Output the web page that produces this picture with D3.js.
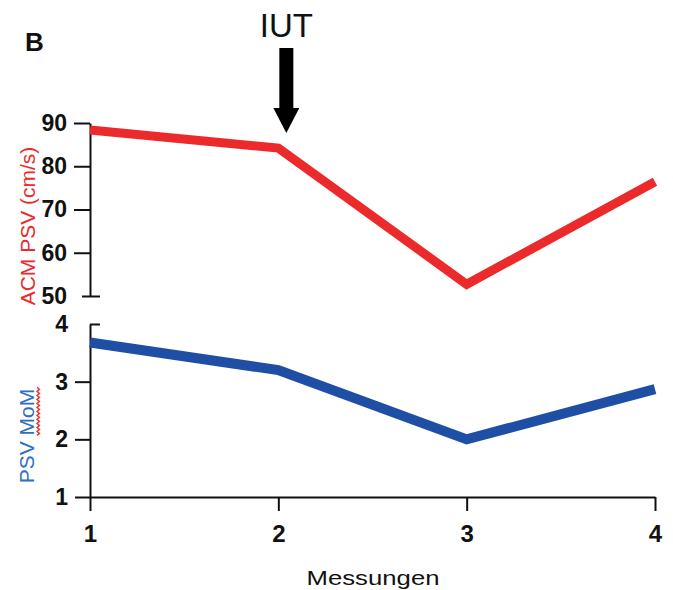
<!DOCTYPE html>
<html lang="en">
<head>
    <meta charset="UTF-8">
    <script src="https://d3js.org/d3.v7.min.js"></script>
    <title>Messungen</title>
    <style>
        body{ margin: 0; background-color: #fff; }
        text{ font-family: Arial, "Liberation Sans", sans-serif; }
        .yaxis .tick text{ font-weight: bold; font-size: 23px; fill: #111; }
        .xaxis .tick text{ font-weight: bold; font-size: 24px; fill: #111; }
        .tick line, .domain{ stroke: #111; stroke-width: 2; }
    </style>
</head>
<body>
    <div id="chart"></div>
<script>
// data
const messungen = [1, 2, 3, 4];
const acmPsv = [88.4, 84.2, 52.7, 76.4];
const psvMom = [3.68, 3.2, 2.0, 2.87];
const acmTicks = [50, 60, 70, 80, 90];
const momTicks = [1, 2, 3, 4];
const iutAt = 2;

const svg = d3.select("#chart").append("svg").attr("width", 673).attr("height", 590);

// Create scales
const x = d3.scaleLinear().domain([1, 4]).range([90, 655]);
const yTop = d3.scaleLinear().domain([50, 90]).range([296, 123]);
const yBot = d3.scaleLinear().domain([1, 4]).range([497, 324]);

// Axes
const topAxis = svg.append("g").attr("class", "yaxis").attr("transform", "translate(90,0)")
    .call(d3.axisLeft(yTop).tickValues(acmTicks).tickSize(16).tickSizeOuter(0).tickPadding(7));
topAxis.selectAll(".tick").filter(d => d === 50).select("line").attr("x1", -8).attr("x2", 10);

const botAxis = svg.append("g").attr("class", "yaxis").attr("transform", "translate(90,0)")
    .call(d3.axisLeft(yBot).tickValues(momTicks).tickFormat(d3.format("d")).tickSize(15).tickSizeOuter(0).tickPadding(7));
botAxis.selectAll(".tick").filter(d => d === 4).select("line").attr("x2", 10);

const xAxis = svg.append("g").attr("class", "xaxis").attr("transform", "translate(0,497)")
    .call(d3.axisBottom(x).tickValues(messungen).tickFormat(d3.format("d")).tickSize(14).tickSizeOuter(0).tickPadding(14));
xAxis.selectAll(".tick line").attr("stroke-width", 1.6);

// Lines
const lineTop = d3.line().x((d, i) => x(messungen[i])).y(d => yTop(d));
const lineBot = d3.line().x((d, i) => x(messungen[i])).y(d => yBot(d));

svg.append("path").datum(acmPsv)
    .attr("fill", "none").attr("stroke", "#ec2a2c").attr("stroke-width", 9)
    .attr("stroke-linejoin", "miter").attr("d", lineTop);

svg.append("path").datum(psvMom)
    .attr("fill", "none").attr("stroke", "#1e4fa5").attr("stroke-width", 10)
    .attr("stroke-linejoin", "miter").attr("d", lineBot);

// Axis titles
svg.append("text").attr("transform", "translate(35,226) rotate(-90)")
    .attr("text-anchor", "middle").attr("font-size", 21).attr("fill", "#ec2a2c")
    .text("ACM PSV (cm/s)");

const momY = 436;
const mom = svg.append("text").attr("transform", `translate(34,${momY}) rotate(-90)`)
    .attr("text-anchor", "middle").attr("font-size", 21).attr("fill", "#2f6fc0")
    .text("PSV MoM");

// red spell-check squiggle under "MoM"
const node = mom.node();
const total = node.getComputedTextLength();
const start = node.getSubStringLength(0, 4);
const y0 = momY + total / 2 - start, y1 = momY - total / 2;
const wave = d3.path();
wave.moveTo(37, y0);
for (let yy = y0, k = 0; yy > y1; yy -= 2, k++) wave.lineTo(k % 2 ? 37 : 39.5, yy - 2);
svg.append("path").attr("d", wave.toString()).attr("fill", "none")
    .attr("stroke", "#e53935").attr("stroke-width", 1.4);

svg.append("text").attr("x", 373).attr("y", 585)
    .attr("text-anchor", "middle").attr("font-size", 21).attr("fill", "#111")
    .attr("textLength", 133).attr("lengthAdjust", "spacingAndGlyphs")
    .text("Messungen");

// Panel letter
svg.append("text").attr("x", 25).attr("y", 51)
    .attr("font-size", 26).attr("font-weight", "bold").attr("fill", "#111").text("B");

// IUT arrow
const ax = x(iutAt) + 8;
svg.append("text").attr("x", ax).attr("y", 37)
    .attr("text-anchor", "middle").attr("font-size", 33).attr("fill", "#111").text("IUT");
svg.append("rect").attr("x", ax - 7).attr("y", 48).attr("width", 14).attr("height", 62).attr("fill", "#000");
svg.append("path").attr("d", `M${ax - 13},108 L${ax + 13},108 L${ax},133 Z`).attr("fill", "#000");
</script>
</body>
</html>
